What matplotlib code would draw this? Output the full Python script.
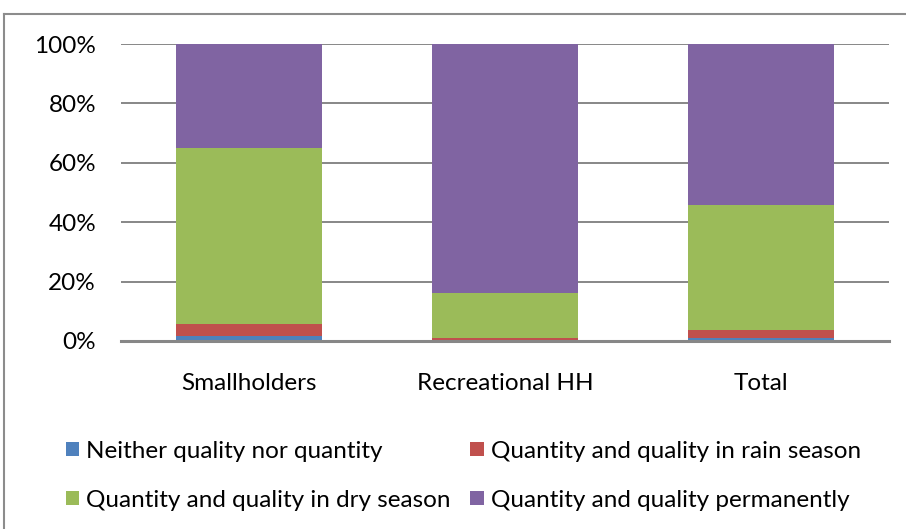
import matplotlib.pyplot as plt
from matplotlib.lines import Line2D
from matplotlib.ticker import FuncFormatter

categories = ["Smallholders", "Recreational HH", "Total"]
series_names = ["Neither quality nor quantity",
                "Quantity and quality in rain season",
                "Quantity and quality in dry season",
                "Quantity and quality permanently"]
neither = [1.6, 0.0, 0.9]
rain_season = [4.1, 1.1, 2.8]
dry_season = [59.4, 15.2, 42.1]
permanent = [34.9, 83.7, 54.2]
colors = ["#4F81BD", "#C0504D", "#9BBB59", "#8064A2"]

plt.rcParams['font.family'] = ['Lato', 'DejaVu Sans']

fig = plt.figure(figsize=(9.06, 5.29), dpi=100)
ax = fig.add_axes([0.1336, 0.3554, 0.8476, 0.5614])

x = range(len(categories))
bottom = [0, 0, 0]
handles = []
for vals, name, c in zip([neither, rain_season, dry_season, permanent], series_names, colors):
    b = ax.bar(x, vals, width=0.57, bottom=bottom, color=c, label=name, zorder=3)
    handles.append(b)
    bottom = [p + v for p, v in zip(bottom, vals)]

ax.set_xlim(-0.5, 2.5)
ax.set_ylim(0, 100)
ax.set_yticks(range(0, 101, 20))
ax.yaxis.set_major_formatter(FuncFormatter(lambda v, p: f"{int(v)}%"))
ax.set_xticks(list(x))
ax.set_xticklabels(categories)
ax.tick_params(axis='both', length=0, labelsize=17.5, colors='black')
ax.tick_params(axis='y', pad=18)
ax.tick_params(axis='x', pad=23)
ax.grid(axis='y', color='#878787', linewidth=1.4, zorder=0)
for s in ['left', 'right', 'top']:
    ax.spines[s].set_visible(False)
ax.spines['bottom'].set_color('#878787')
ax.spines['bottom'].set_linewidth(2.2)
ax.spines['bottom'].set_zorder(4)

# legend is filled column by column, so reorder to get row-wise layout
order = [0, 2, 1, 3]
fig.legend(handles=[handles[i] for i in order], labels=[series_names[i] for i in order],
           loc='upper left', bbox_to_anchor=(0.059, 0.19), ncol=2, frameon=False,
           fontsize=17.5, handlelength=0.55, handleheight=0.55, handletextpad=0.3,
           columnspacing=0.8, labelspacing=1.15, borderpad=0)

# chart area border (left and top edges)
fig.add_artist(Line2D([4/906, 4/906], [0, 1 - 14/529], color='#8c8c8c', linewidth=1.5))
fig.add_artist(Line2D([4/906, 1], [1 - 14/529, 1 - 14/529], color='#8c8c8c', linewidth=1.5))

fig.savefig("out.png", dpi=100)
